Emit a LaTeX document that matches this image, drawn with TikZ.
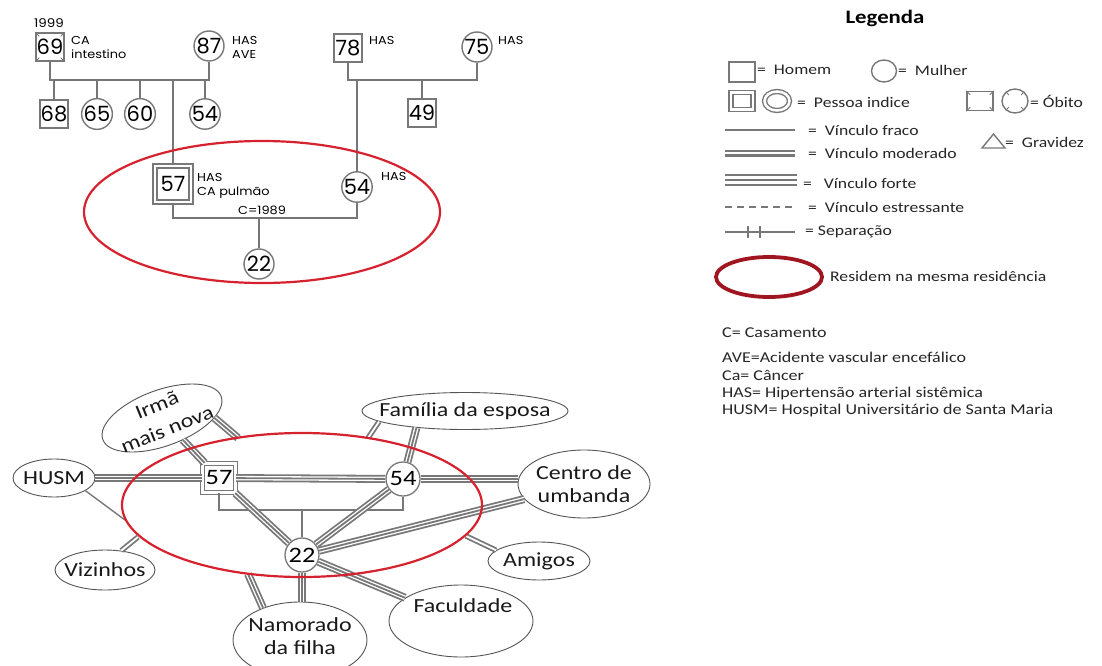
\documentclass[tikz,border=0pt]{standalone}
\usepackage{fontspec}
\setmainfont[FakeStretch=1.2]{Carlito}
\newfontfamily\gnf{Poppins}
\newfontfamily\glf[FakeStretch=1.12]{Poppins}
\usetikzlibrary{shapes.geometric,calc}
\definecolor{lg}{RGB}{120,120,120}
\definecolor{gl}{RGB}{118,118,118}
\definecolor{homered}{RGB}{214,34,46}
\definecolor{legred}{RGB}{160,22,32}
\definecolor{bord}{RGB}{85,85,85}
\tikzset{
  gline/.style={draw=gl, line width=2.4},
  gnum/.style={font=\gnf\fontsize{21}{21}\selectfont, text=black, inner sep=0pt, fill=white},
  male/.style={gnum, draw=lg, line width=1.4, minimum width=28, minimum height=28},
  female/.style={gnum, circle, draw=lg, line width=1.4, minimum size=30},
  indexm/.style={gnum, draw=lg, line width=1.4, double=white, double distance=2.6, minimum width=36, minimum height=36},
  glabel/.style={font=\glf\fontsize{11.5}{14}\selectfont, anchor=north west, align=left, inner sep=0pt},
  ecnum/.style={font=\fontsize{22}{22}\selectfont, text=black, inner sep=0pt, fill=white},
  ecmale/.style={ecnum, draw=lg, line width=1.3, double=white, double distance=2.4, minimum width=33, minimum height=29},
  ecfem/.style={ecnum, circle, draw=lg, line width=1.3, minimum size=34},
  eco/.style={ellipse, draw=bord, line width=0.9, fill=white, inner sep=0pt},
  ecot/.style={font=\fontsize{20}{23}\selectfont, align=center, inner sep=0pt, text=black!90},
  strong/.style={draw=lg, line width=8, postaction={draw=white, line width=4.4}, postaction={draw=lg, line width=1.8}},
  moderate/.style={draw=lg, line width=5.4, postaction={draw=white, line width=1.8}},
  weak/.style={draw=lg, line width=1.4},
  famline/.style={draw=lg, line width=2},
  leg/.style={font=\fontsize{14.7}{18}\selectfont, anchor=west, inner sep=0pt, text=black!85},
  notes/.style={font=\fontsize{15}{18}\selectfont, anchor=west, inner sep=0pt, text=black!85},
  lsym/.style={draw=lg, line width=1.4, inner sep=0pt},
  lweak/.style={draw=lg, line width=2.5},
  lmod/.style={draw=lg, line width=7, postaction={draw=white, line width=2}},
  lstrong/.style={draw=lg, line width=12.5, postaction={draw=white, line width=7.5}, postaction={draw=lg, line width=2.5}},
}
\begin{document}
\begin{tikzpicture}[x=1pt,y=-1pt]
\useasboundingbox (0,0) rectangle (1102,666);
\fill[white] (0,0) rectangle (1102,666);

% ---------------- Genogram ----------------
\node[font=\glf\fontsize{12}{12}\selectfont, inner sep=0pt] (y1999) at (49,23) {1999};
\node[male] (g69) at (50,47) {69};
\foreach \a/\dx/\dy in {north west/1/1, north east/-1/1, south west/1/-1, south east/-1/-1}
  \draw[lg, line width=1] (g69.\a) -- ++(4*\dx,4*\dy);
\node[glabel] (l69) at (71,36) {CA\\intestino};
\node[female] (g87) at (209,46) {87};
\node[glabel] (l87) at (232,36) {HAS\\AVE};
\coordinate (u1) at (130,80);
\node[male] (g68) at (54,114) {68};
\node[female] (g65) at (97,114) {65};
\node[female] (g60) at (140,114) {60};
\node[female] (g54a) at (205,114) {54};
\node[indexm] (g57) at (173,184) {57};
\node[glabel] (l57) at (197,173) {HAS\\CA pulmão};
\node[male] (g78) at (348,48) {78};
\node[glabel] (l78) at (369,36) {HAS};
\node[female] (g75) at (477,47) {75};
\node[glabel] (l75) at (498,36) {HAS};
\coordinate (u2) at (410,80);
\node[male] (g49) at (422,113) {49};
\node[female] (g54w) at (357,187) {54};
\node[glabel] (l54w) at (381,172) {HAS};
\coordinate (m) at (262,218);
\node[female] (g22) at (259,264) {22};
\node[font=\glf\fontsize{11.5}{12}\selectfont, anchor=south, inner sep=0pt] (cdate) at (262,215) {C=1989};

\draw[gline] (g69.south) |- (u1) -| (g87.south);
\draw[gline] (g68.north) -- (g68.north |- u1);
\draw[gline] (g65.north) -- (g65.north |- u1);
\draw[gline] (g60.north) -- (g60.north |- u1);
\draw[gline] (g54a.north) -- (g54a.north |- u1);
\draw[gline] (u1 -| g57) -- (g57.north);
\draw[gline] (g78.south) |- (u2) -| (g75.south);
\draw[gline] (g49.north) -- (g49.north |- u2);
\draw[gline] (u2 -| g54w) -- (g54w.north);
\draw[gline] (g57.south) |- (m) -| (g54w.south);
\draw[gline] (m -| g22) -- (g22.north);
\draw[homered, line width=2.2] (262,212) ellipse [x radius=178, y radius=71];

% ---------------- Legend ----------------
\node[font=\bfseries\fontsize{19}{19}\selectfont, inner sep=0pt] (legT) at (885,18) {Legenda};
\node[lsym, minimum width=26, minimum height=20] (lhom) at (742,72) {};
\node[leg] (lhomT) at (757,70) {=\ \ Homem};
\node[lsym, ellipse, minimum width=25, minimum height=22] (lmul) at (884,71) {};
\node[leg] (lmulT) at (898,70) {=\ \ Mulher};
\node[lsym, double=white, double distance=2.5, minimum width=22, minimum height=17] (lidx1) at (742,101) {};
\node[lsym, ellipse, double=white, double distance=2.5, minimum width=25, minimum height=19] (lidx2) at (777,101) {};
\node[leg] (lidxT) at (797,102) {=\ \ Pessoa indice};
\node[lsym, minimum width=26, minimum height=19] (lob1) at (980,101) {};
\foreach \a/\dx/\dy in {north west/1/1, north east/-1/1, south west/1/-1, south east/-1/-1}
  \draw[lg, line width=1] (lob1.\a) -- ++(4*\dx,4*\dy);
\node[lsym, ellipse, minimum width=26, minimum height=24] (lob2) at (1015,101) {};
\foreach \ang in {45,135,225,315}
  \draw[lg, line width=1] (lob2.\ang) -- ($(lob2.center)!0.65!(lob2.\ang)$);
\node[leg] (lobT) at (1030,101) {=\ Óbito};
\draw[lsym] (982,148) -- (1005,148) -- (993.5,134) -- cycle;
\node[leg] (gravT) at (1005,142) {=\ \ Gravidez};

\draw[lweak] (725,130) -- (795,130);
\node[leg] (lfraco) at (808,130) {=\ \ Vínculo fraco};
\draw[lmod] (725,153) -- (795,153);
\node[leg] (lmodT) at (808,153) {=\ \ Vínculo moderado};
\draw[lstrong] (725,180) -- (797,180);
\node[leg] (lforte) at (803,183) {=\ \ \ Vínculo forte};
\draw[lg, line width=2.2, dash pattern=on 7 off 5] (725,207) -- (792,207);
\node[leg] (lestr) at (808,207) {=\ \ Vínculo estressante};
\draw[lweak] (725,232) -- (795,232);
\draw[lg, line width=1.6] (748,226) -- (748,238);
\draw[lg, line width=1.6] (760,226) -- (760,238);
\node[leg] (lsep) at (805,232) {=\ Separação};
\draw[legred, line width=3.8] (769,277) ellipse [x radius=53, y radius=20];
\node[leg] (lres) at (830,276) {Residem na mesma residência};

\node[notes] (n1) at (722,333) {C= Casamento};
\node[notes] (n2) at (722,357) {AVE=Acidente vascular encefálico};
\node[notes] (n3) at (722,375) {Ca= Câncer};
\node[notes] (n4) at (722,393) {HAS= Hipertensão arterial sistêmica};
\node[notes] (n5) at (722,410) {HUSM= Hospital Universitário de Santa Maria};

% ---------------- Ecomap ----------------
\node[eco, minimum width=82, minimum height=38] (husm) at (54,478) {};
\node[ecot] (husmT) at (husm) {HUSM};
\node[eco, rotate=20, minimum width=126, minimum height=56] (irma) at (162,418) {};
\node[ecot, rotate=22] (irmaT1) at (157,405) {Irmã};
\node[ecot, rotate=22] (irmaT2) at (167,429) {mais nova};
\node[eco, minimum width=206, minimum height=37] (fam) at (465,411) {};
\node[ecot] (famT) at (fam) {Família da esposa};
\node[eco, minimum width=132, minimum height=68] (centro) at (584,484) {};
\node[ecot] (centroT) at (centro) {Centro de\\umbanda};
\node[eco, minimum width=102, minimum height=38] (amigos) at (539,561) {};
\node[ecot] (amigosT) at (amigos) {Amigos};
\node[eco, minimum width=144, minimum height=72] (fac) at (461,621) {};
\node[ecot] (facT) at (463,606) {Faculdade};
\node[eco, minimum width=134, minimum height=76] (nam) at (300,640) {};
\node[ecot] (namT) at (300,636) {Namorado\\da filha};
\node[eco, minimum width=100, minimum height=40] (viz) at (105,570) {};
\node[ecot] (vizT) at (viz) {Vizinhos};

\node[ecmale] (e57) at (219,478) {57};
\node[ecfem] (e54) at (403,479) {54};
\node[ecfem] (e22) at (302,555) {22};

\coordinate (hidI) at (238,438);
\coordinate (hidF) at (368,438);
\coordinate (hidN) at (248,574);
\coordinate (hidV) at (138,537);
\coordinate (hidH) at (125,520);
\coordinate (hidA) at (466,536);
\coordinate (famc) at (302,510);

\draw[famline] (e57.south) |- (famc) -| (e54.south);
\draw[famline] (famc) -- (e22.north);

\draw[strong] (husm) -- (e57);
\draw[strong] (e57) -- (e54);
\draw[strong] (e54) -- (e54 -| centro.west);
\draw[strong] (irma) -- (e57);
\draw[strong] (irma.-20) -- (hidI);
\draw[strong] (fam.-161) -- (e54);
\draw[moderate] (fam.-173) -- (hidF);
\draw[strong] (e54) -- (e22);
\draw[strong] (e57) -- (e22);
\draw[strong] (e22) -- (centro);
\draw[strong] (e22) -- (fac);
\draw[strong] (e22) -- (e22 |- nam.north);
\draw[strong] (nam.139) -- (hidN);
\draw[moderate] (viz.50) -- (hidV);
\draw[weak] (husm.-22) -- (hidH);
\draw[moderate] (amigos.166) -- (hidA);

\draw[homered, line width=2.2] (302,505) ellipse [x radius=180, y radius=72];
\end{tikzpicture}
\end{document}
